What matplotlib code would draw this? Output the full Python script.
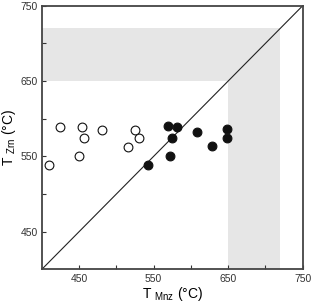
import matplotlib.pyplot as plt
from matplotlib.patches import Polygon

plt.rcParams['font.family'] = ['Liberation Sans', 'DejaVu Sans']
plt.rcParams['mathtext.fontset'] = 'custom'
plt.rcParams['mathtext.rm'] = 'Liberation Sans'

# open circles
open_mnz = [425, 454, 456, 481, 525, 531, 516, 409, 450]
open_zrn = [589, 589, 574, 585, 585, 574, 563, 538, 550]

# filled circles
fill_mnz = [569, 581, 575, 608, 649, 649, 629, 572, 542]
fill_zrn = [590, 589, 575, 583, 586, 575, 564, 550, 538]

# shaded L-shaped region
band_lo = 650
band_hi = 720
lim = (400, 750)
ticks = [450, 500, 550, 600, 650, 700, 750]
tick_labels = ['450', '', '550', '', '650', '', '750']

fig = plt.figure(figsize=(3.12, 3.04), dpi=100)
ax = fig.add_axes([0.134, 0.114, 0.836, 0.867])

shade = Polygon([(lim[0], band_lo), (band_lo, band_lo), (band_lo, lim[0]),
                 (band_hi, lim[0]), (band_hi, band_hi), (lim[0], band_hi)],
                closed=True, facecolor='#e6e6e6', edgecolor='none', zorder=0)
ax.add_patch(shade)

ax.plot(lim, lim, color='#222222', lw=0.8, zorder=1)

ax.scatter(open_mnz, open_zrn, s=40, facecolor='white', edgecolor='#111111',
           linewidth=0.8, zorder=3)
ax.scatter(fill_mnz, fill_zrn, s=40, facecolor='#111111', edgecolor='#111111',
           linewidth=0.8, zorder=3)

ax.set_xlim(lim)
ax.set_ylim(lim)
ax.set_xticks(ticks)
ax.set_xticklabels(tick_labels)
ax.set_yticks(ticks)
ax.set_yticklabels(tick_labels)
ax.tick_params(direction='in', length=3, width=0.8, labelsize=7.5,
               colors='#333333', pad=3)

for sp in ax.spines.values():
    sp.set_color('#444444')
    sp.set_linewidth(1.3)

ax.set_xlabel(r'T $_{\mathrm{Mnz}}$ (°C)', fontsize=10, labelpad=1)
ax.set_ylabel(r'T $_{\mathrm{Zrn}}$ (°C)', fontsize=10, labelpad=2)

fig.savefig('out.png', dpi=100)
